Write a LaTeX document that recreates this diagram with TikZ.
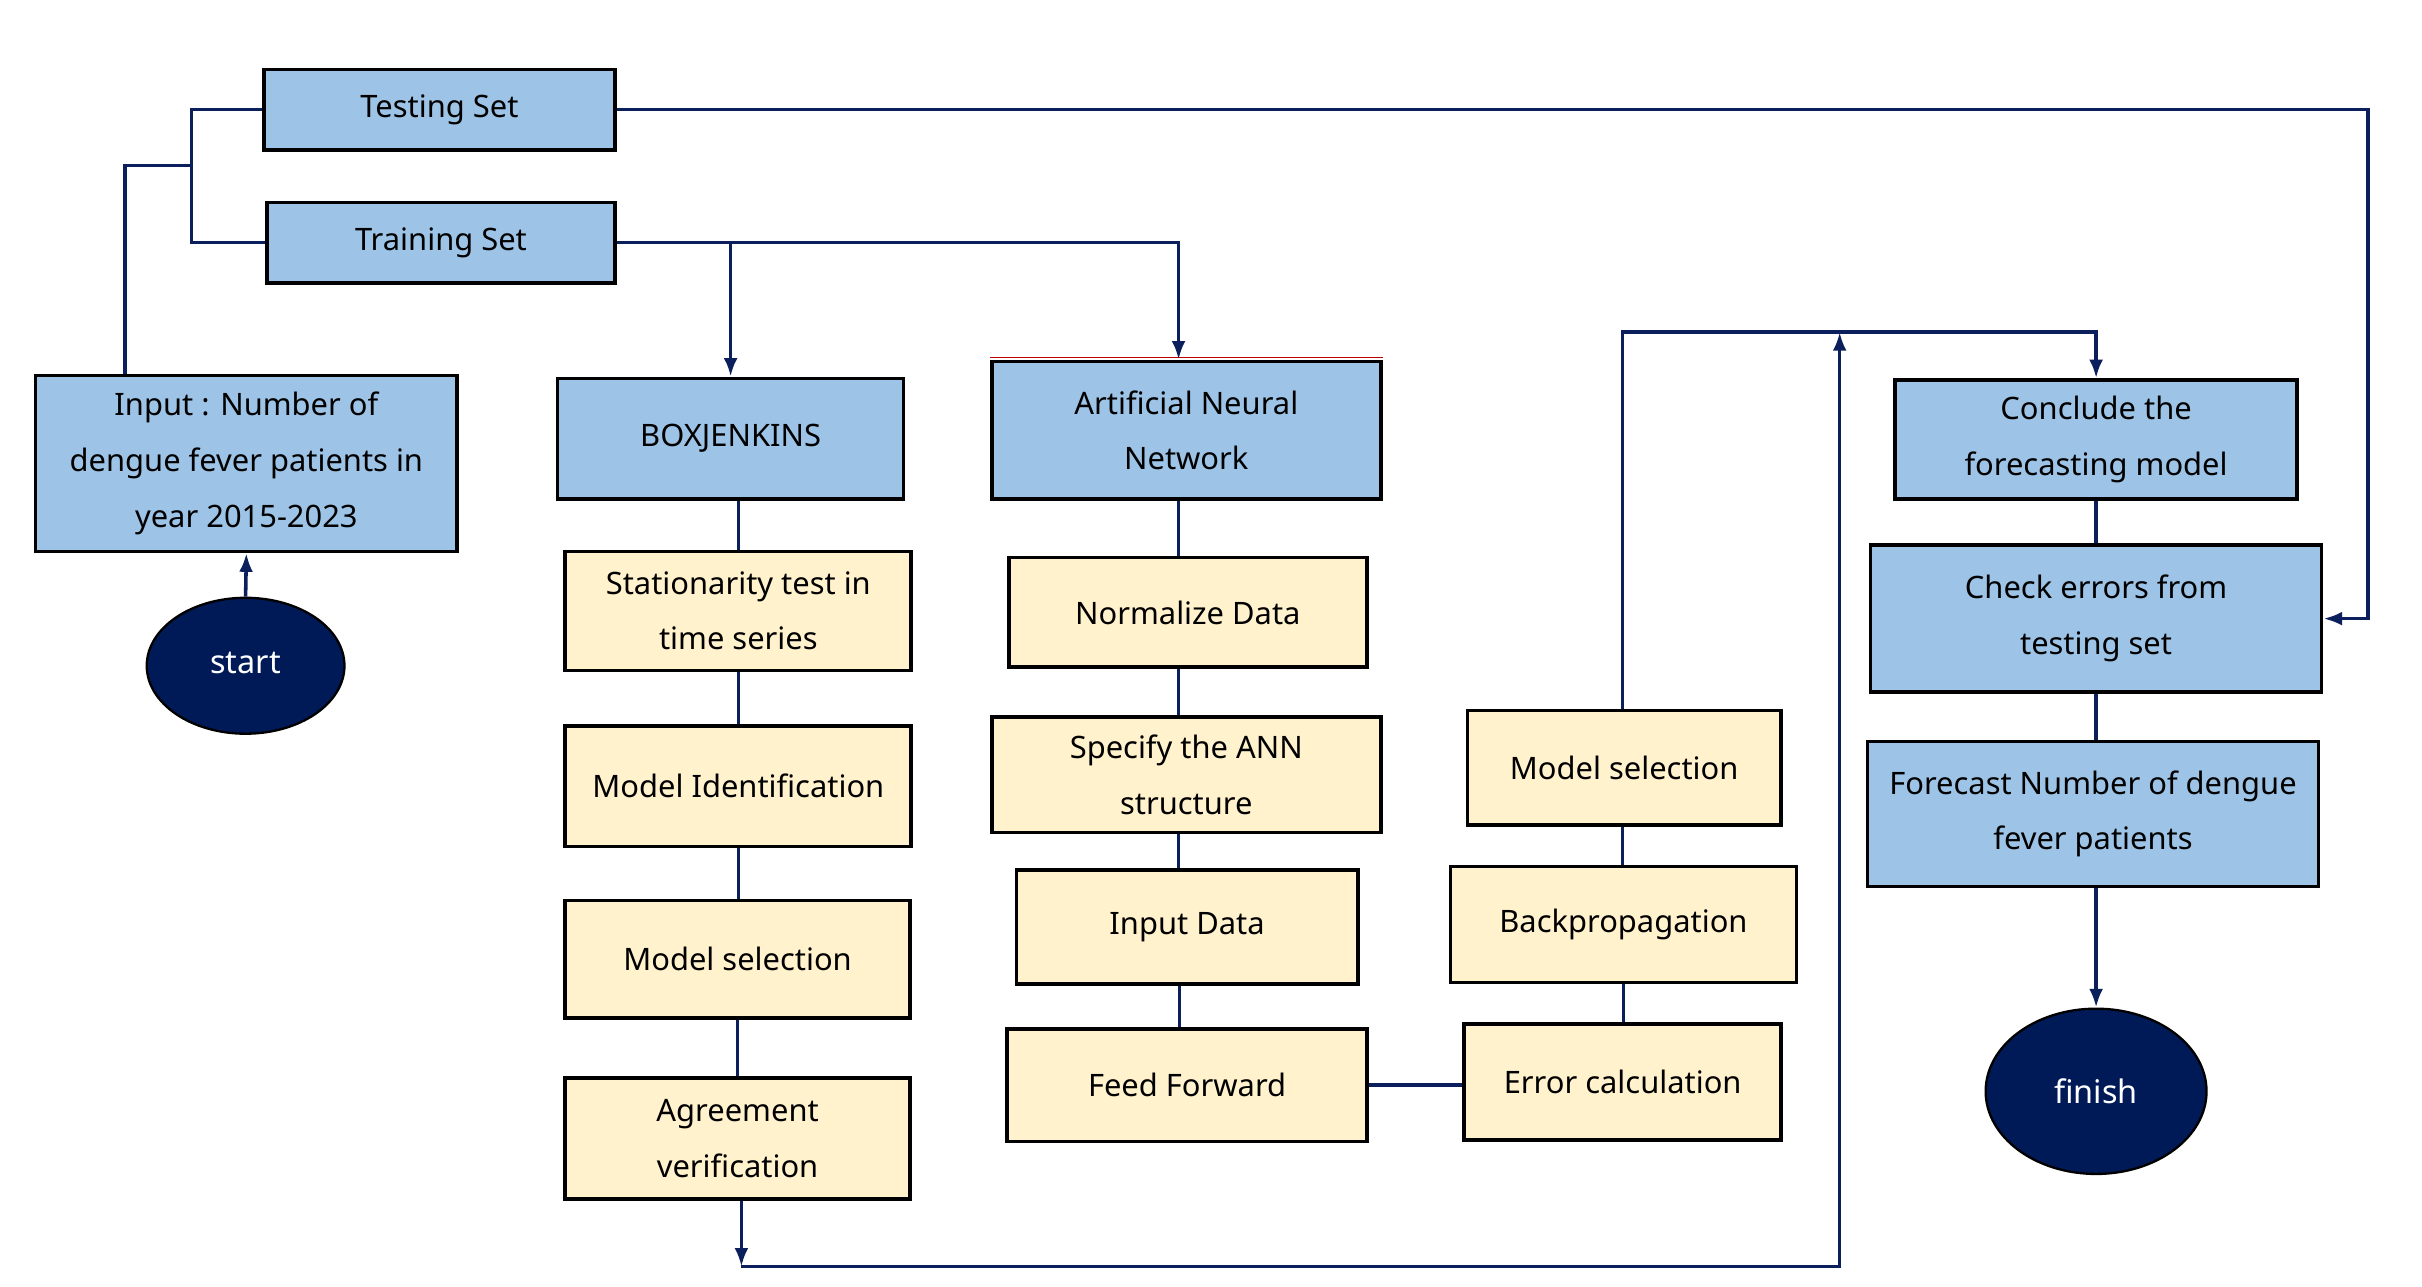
\documentclass[tikz,border=0pt]{standalone}
\usepackage{fontspec}
\setmainfont{Noto Sans}
\usetikzlibrary{arrows.meta,shapes.geometric}
\definecolor{boxblue}{HTML}{9DC3E6}
\definecolor{boxyel}{HTML}{FFF2CC}
\definecolor{navy}{HTML}{0B1F5C}
\definecolor{ovalfill}{HTML}{001A57}
\tikzset{
  base/.style={draw=black,line width=2.4pt,rectangle,inner sep=2pt,align=center,
    font=\fontsize{20}{36}\selectfont},
  bluebox/.style={base,fill=boxblue},
  yelbox/.style={base,fill=boxyel},
  oval/.style={ellipse,draw=black,line width=1.5pt,fill=ovalfill,text=white,inner sep=0pt,
    font=\fontsize{21}{24}\selectfont},
  conn/.style={draw=navy,line width=2.3pt},
  arr/.style={conn,-{Latex[length=12pt,width=9pt]}}
}
\begin{document}
\begin{tikzpicture}[x=1pt,y=-1pt]
\useasboundingbox[fill=white] (0,0) rectangle (1568,833);
% left
\node[bluebox,minimum width=227pt,minimum height=52pt] (test) at (284.5,71) {Testing Set};
\node[bluebox,minimum width=225pt,minimum height=52pt] (train) at (285.5,157) {Training Set};
\node[bluebox,minimum width=273pt,minimum height=114pt] (input) at (159.5,300) {Input : Number of\\dengue fever patients in\\year 2015-2023};
\node[oval,minimum width=128pt,minimum height=88pt] (start) at (159,431) {\raisebox{4pt}{start}};
% Box-Jenkins column
\node[bluebox,minimum width=224pt,minimum height=78pt] (box) at (473,284) {BOXJENKINS};
\node[yelbox,minimum width=224pt,minimum height=77pt] (stat) at (478,395.5) {Stationarity test in\\time series};
\node[yelbox,minimum width=224pt,minimum height=78pt] (mid) at (478,509) {Model Identification};
\node[yelbox,minimum width=223pt,minimum height=76pt] (msa) at (477.5,621) {Model selection};
\node[yelbox,minimum width=223pt,minimum height=78pt] (agree) at (477.5,737) {Agreement\\verification};
% ANN column
\node[bluebox,minimum width=252pt,minimum height=89pt] (ann) at (768,278.5) {Artificial Neural\\Network};
\node[yelbox,minimum width=232pt,minimum height=71pt] (norm) at (769,396.5) {Normalize Data};
\node[yelbox,minimum width=252pt,minimum height=75pt] (spec) at (768,501.5) {Specify the ANN\\structure};
\node[yelbox,minimum width=221pt,minimum height=74pt] (indata) at (768.5,600) {Input Data};
\node[yelbox,minimum width=233pt,minimum height=73pt] (feed) at (768.5,702.5) {Feed Forward};
% training loop column
\node[yelbox,minimum width=203pt,minimum height=74pt] (msb) at (1051.5,497) {Model selection};
\node[yelbox,minimum width=224pt,minimum height=75pt] (back) at (1051,598.5) {Backpropagation};
\node[yelbox,minimum width=205pt,minimum height=75pt] (err) at (1050.5,700.5) {Error calculation};
% right column
\node[bluebox,minimum width=260pt,minimum height=77pt] (concl) at (1357,284.5) {Conclude the\\forecasting model};
\node[bluebox,minimum width=292pt,minimum height=95pt] (check) at (1357,400.5) {Check errors from\\testing set};
\node[bluebox,minimum width=292pt,minimum height=94pt] (fore) at (1355,527) {Forecast Number of dengue\\fever patients};
\node[oval,minimum width=143pt,minimum height=107pt] (finish) at (1357,706.5) {finish};
% thin red top edge of ANN box
\draw[red!75!black,line width=0.8pt] ([yshift=1.4pt]ann.north west) -- ([yshift=1.4pt]ann.north east);
% coordinates
\coordinate (jx) at (124,107);
\coordinate (inx) at (81,107);
\coordinate (tr) at (1533,71);
\coordinate (top) at (1191,215);
\coordinate (bl) at (480,820);
% connectors
\draw[arr] (start.north) -- (input.south);
\draw[conn] (input.north -| inx) -- (inx) -- (jx);
\draw[conn] (test.west) -| (jx) |- (train.west);
\draw[arr] (test.east) -- (tr) |- (check.east);
\draw[arr] (train.east) -| ([xshift=-5pt]ann.north);
\draw[arr] (train.east -| box.north) -- (box.north);
\draw[conn] (box.south -| stat.north) -- (stat.north);
\draw[conn] (stat.south) -- (mid.north);
\draw[conn] (mid.south) -- (mid.south |- msa.north);
\draw[conn] (msa.south) -- (agree.north);
\draw[conn] ([xshift=-5pt]ann.south) -- ([xshift=-5pt]ann.south |- norm.north);
\draw[conn] ([xshift=-6pt]norm.south) -- ([xshift=-6pt]norm.south |- spec.north);
\draw[conn] ([xshift=-5pt]spec.south) -- ([xshift=-5pt]spec.south |- indata.north);
\draw[conn] ([xshift=-5pt]indata.south) -- ([xshift=-5pt]indata.south |- feed.north);
\draw[conn] (feed.east) -- (feed.east -| err.west);
\draw[conn] ([xshift=-1pt]msb.south) -- ([xshift=-1pt]msb.south |- back.north);
\draw[conn] (back.south) -- (back.south |- err.north);
\draw[arr] ([xshift=-1pt]msb.north) |- (top) -| (concl.north);
\draw[arr] (agree.south -| bl) -- (bl);
\draw[arr] (bl) -| (top);
\draw[conn] (concl.south) -- (check.north);
\draw[conn] (check.south) -- (check.south |- fore.north);
\draw[arr] (fore.south -| finish.north) -- (finish.north);
\end{tikzpicture}
\end{document}
